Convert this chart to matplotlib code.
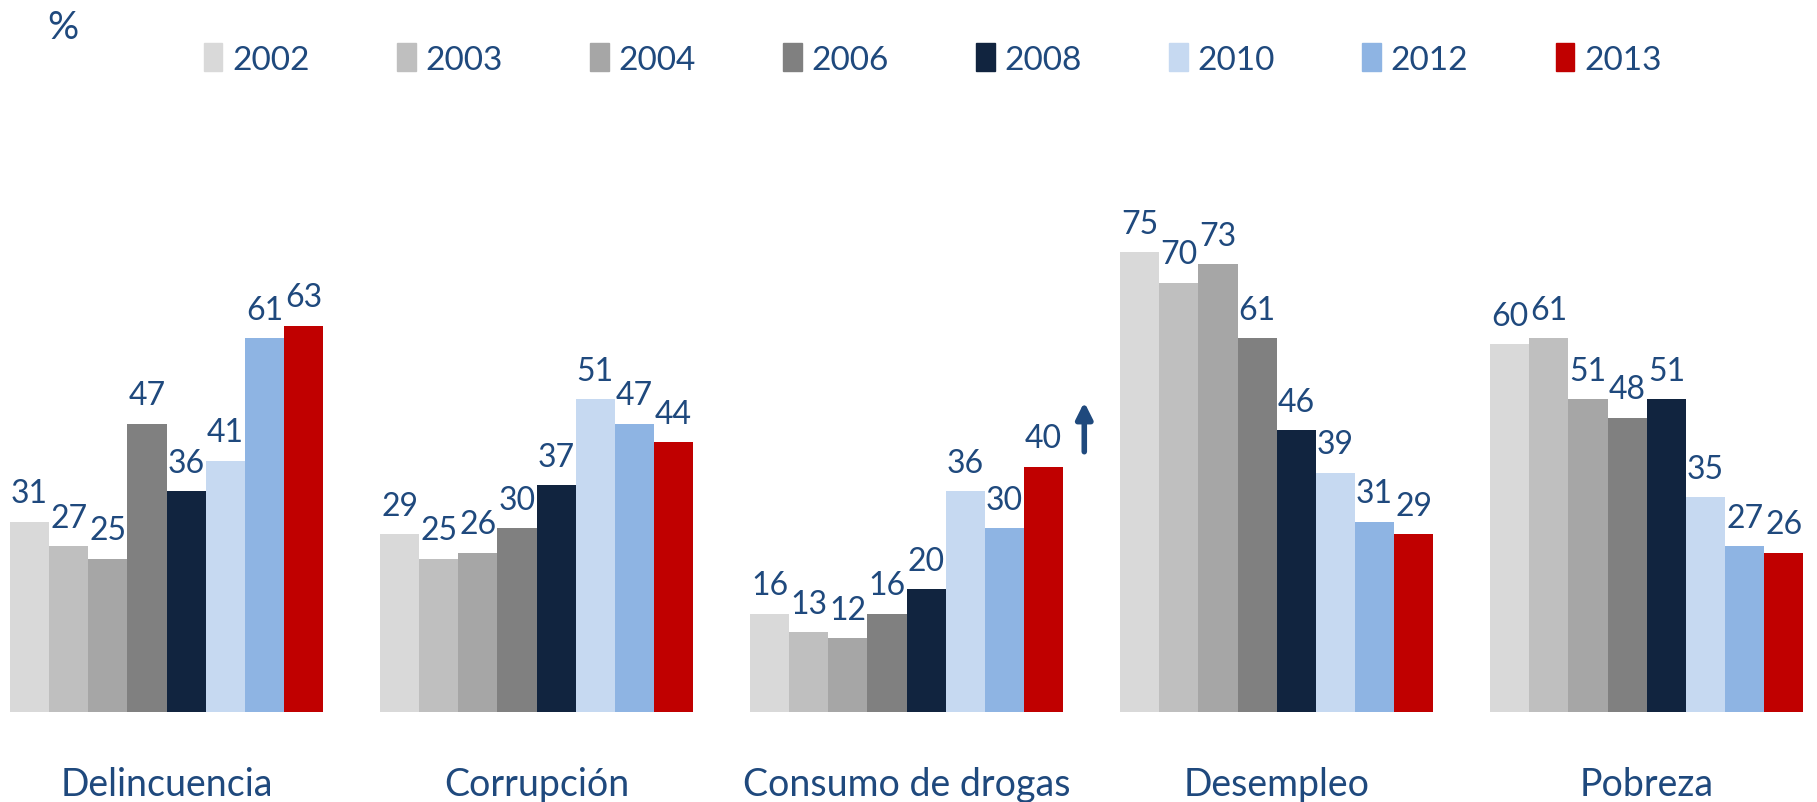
import numpy as np
import matplotlib
matplotlib.use("Agg")
from matplotlib import pyplot as plt
from matplotlib.patches import Patch

plt.rcParams['font.family'] = ['Lato', 'DejaVu Sans']

# data
categories = ['Delincuencia', 'Corrupción', 'Consumo de drogas', 'Desempleo', 'Pobreza']
years = ['2002', '2003', '2004', '2006', '2008', '2010', '2012', '2013']
v2002 = [31, 29, 16, 75, 60]
v2003 = [27, 25, 13, 70, 61]
v2004 = [25, 26, 12, 73, 51]
v2006 = [47, 30, 16, 61, 48]
v2008 = [36, 37, 20, 46, 51]
v2010 = [41, 51, 36, 39, 35]
v2012 = [61, 47, 30, 31, 27]
v2013 = [63, 44, 40, 29, 26]
series = [v2002, v2003, v2004, v2006, v2008, v2010, v2012, v2013]

colors = ['#D9D9D9', '#BFBFBF', '#A6A6A6', '#808080', '#11243F',
          '#C6D9F1', '#8EB4E3', '#C00000']
txt = '#1F497D'

fig = plt.figure(figsize=(18.17, 8.03), dpi=100)
ax = fig.add_axes([0, 90 / 803, 1, 713 / 803])

x = np.arange(len(categories))
w = 0.1058
for i, vals in enumerate(series):
    pos = x + (i - 3.5) * w
    ax.bar(pos, vals, width=w, color=colors[i], label=years[i])
    for p, v in zip(pos, vals):
        ax.text(p, v + 2.2, str(v), ha='center', va='bottom', fontsize=23, color=txt)

# arrow next to the 2013 bar of "Consumo de drogas"
ax.annotate('', xy=(2.48, 51), xytext=(2.48, 42),
            arrowprops=dict(arrowstyle='-|>', color=txt, lw=4, mutation_scale=24))

ax.set_xlim(-0.45, 4.46)
ax.set_ylim(0, 116.3)
ax.set_xticks(x)
ax.set_xticklabels(categories, fontsize=27, color=txt)
ax.tick_params(axis='x', length=0, pad=39)
ax.set_yticks([])
for s in ax.spines.values():
    s.set_visible(False)

fig.text(47 / 1817, 1 - 28 / 803, '%', fontsize=28, color=txt, va='center')

handles = [Patch(color=c) for c in colors]
fig.legend(handles, years, loc='center left', bbox_to_anchor=(204 / 1817, 1 - 60 / 803),
           ncol=8, frameon=False, fontsize=24, labelcolor=txt, borderpad=0, borderaxespad=0,
           handlelength=0.55, handleheight=0.9, handletextpad=0.3, columnspacing=2.62)

fig.savefig('out.png', dpi=100)
